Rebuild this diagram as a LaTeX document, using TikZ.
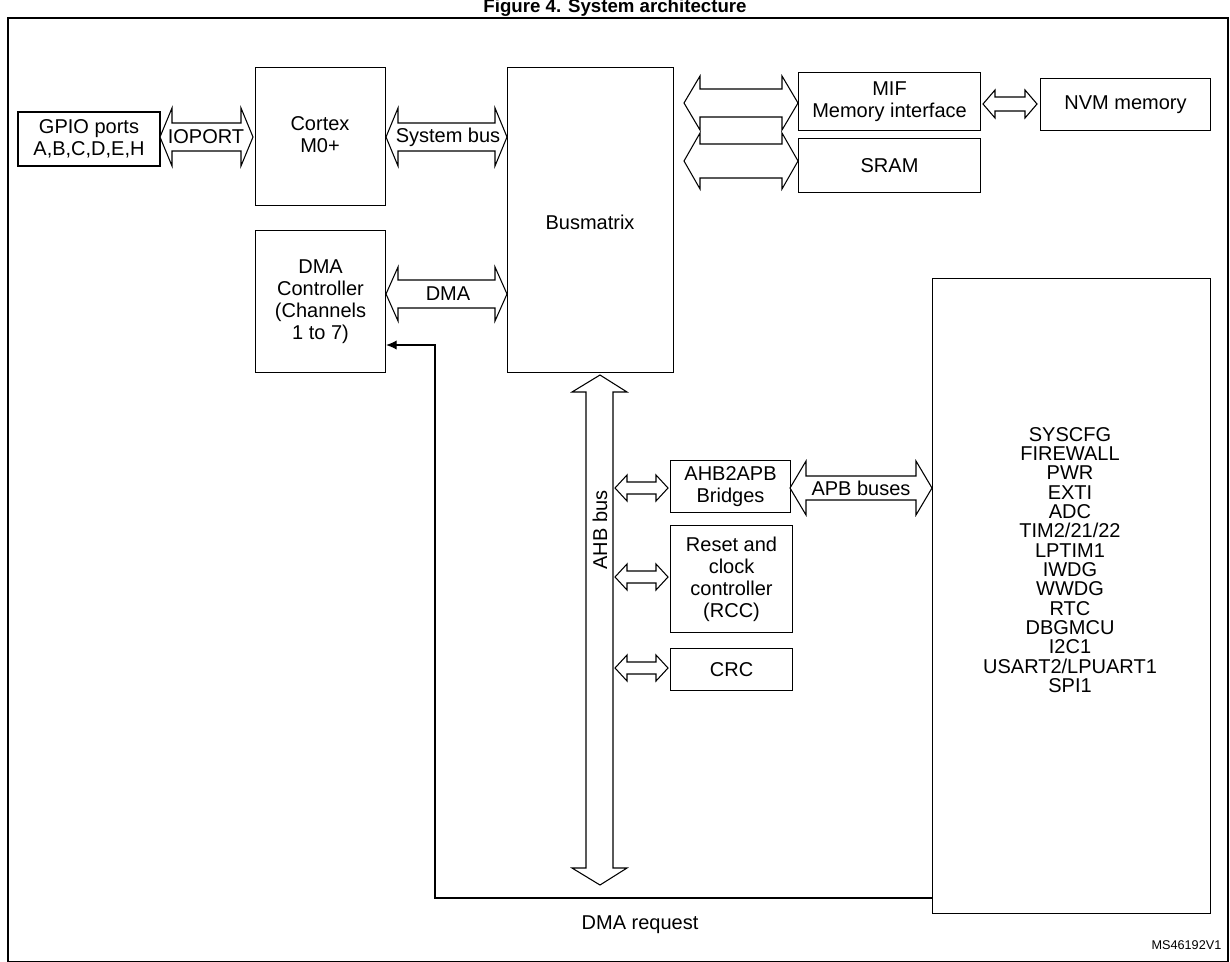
\documentclass[tikz,border=0pt]{standalone}
\usepackage{fontspec}
\usetikzlibrary{arrows.meta}
\setmainfont{Liberation Sans}
\newcommand{\hdarr}[6]{% x1 x2 y s h L
  \draw[arr] (#1,#3) -- ({#1+#6},{#3-#5}) -- ({#1+#6},{#3-#4}) -- ({#2-#6},{#3-#4}) -- ({#2-#6},{#3-#5}) -- (#2,#3)
   -- ({#2-#6},{#3+#5}) -- ({#2-#6},{#3+#4}) -- ({#1+#6},{#3+#4}) -- ({#1+#6},{#3+#5}) -- cycle;}
\begin{document}
\begin{tikzpicture}[x=0.75pt,y=-0.75pt,
  box/.style={draw,line width=0.8pt,inner sep=0pt,align=center,font=\fontsize{15}{16.5}\selectfont},
  arr/.style={draw,line width=0.8pt,fill=white},
  lbl/.style={font=\fontsize{15}{16.5}\selectfont,inner sep=1pt}]
\useasboundingbox (0,0) rectangle (1230,961);
\node[font=\bfseries\fontsize{14}{16}\selectfont] (title) at (615,8) {Figure 4. System architecture};
\draw[line width=0.8pt] (8,18) rectangle (1228,962);
% boxes
\node[box,minimum width=142*0.75pt,minimum height=54*0.75pt] (gpio) at (89,139) {GPIO ports\\A,B,C,D,E,H};
\node[box,minimum width=130*0.75pt,minimum height=138*0.75pt,anchor=north west] (cortex) at (255,67) {};
\node[lbl,align=center] (cortext) at (320,135) {Cortex\\M0+};
\node[box,minimum width=130*0.75pt,minimum height=142*0.75pt,anchor=north west] (dmac) at (255,230) {DMA\\Controller\\(Channels\\1 to 7)};
\node[box,minimum width=166*0.75pt,minimum height=305*0.75pt,anchor=north west] (bm) at (507,67) {};
\node[lbl] (bmt) at (590,222) {Busmatrix};
\node[box,minimum width=182*0.75pt,minimum height=58*0.75pt,anchor=north west] (mif) at (798,72) {MIF\\Memory interface};
\node[box,minimum width=182*0.75pt,minimum height=54*0.75pt,anchor=north west] (sram) at (798,138) {SRAM};
\node[box,minimum width=170*0.75pt,minimum height=52*0.75pt,anchor=north west] (nvm) at (1040,78) {NVM memory};
\node[box,minimum width=120*0.75pt,minimum height=52*0.75pt,anchor=north west] (br) at (670,460) {AHB2APB\\Bridges};
\node[box,minimum width=122*0.75pt,minimum height=107*0.75pt,anchor=north west] (rcc) at (670,525) {Reset and\\clock\\controller\\(RCC)};
\node[box,minimum width=122*0.75pt,minimum height=42*0.75pt,anchor=north west] (crc) at (670,648) {CRC};
\node[box,minimum width=278*0.75pt,minimum height=635*0.75pt,anchor=north west] (per) at (932,278) {};
\node[lbl,align=center,font=\fontsize{15}{14.5}\selectfont] (pert) at (1070,560) {SYSCFG\\FIREWALL\\PWR\\EXTI\\ADC\\TIM2/21/22\\LPTIM1\\IWDG\\WWDG\\RTC\\DBGMCU\\I2C1\\USART2/LPUART1\\SPI1};
% bus arrows
\hdarr{160}{253}{137}{14}{29}{12}
\node[lbl] (io) at (206,137) {IOPORT};
\hdarr{386}{507}{137}{14}{29}{12}
\node[lbl] (sb) at (448,137) {System bus};
\hdarr{386}{507}{294}{14}{27}{12}
\node[lbl] (dmal) at (448,294) {DMA};
\hdarr{684}{798}{103}{14}{27}{16}
\hdarr{684}{798}{161}{17}{28}{16}
\hdarr{983}{1037}{104}{7}{14}{12}
\hdarr{790}{932}{488}{12}{27}{16}
\node[lbl] (apb) at (861,488) {APB buses};
\hdarr{615}{668}{488}{6}{13}{12}
\hdarr{615}{668}{577}{6}{13}{12}
\hdarr{615}{668}{668}{6}{13}{12}
% AHB vertical
\draw[arr] (600,375) -- (627,392) -- (613,392) -- (613,868) -- (627,868) -- (600,885) -- (572,868) -- (586,868) -- (586,392) -- (572,392) -- cycle;
\node[lbl,rotate=90] (ahb) at (600,530) {AHB bus};
% DMA request
\coordinate (r1) at (435,898);
\coordinate (r2) at (435,345);
\draw[line width=0.8pt,-{Latex[length=8pt,width=7pt]}] (per.west |- r1) -- (r1) -- (r2) -- (dmac.east |- r2);
\node[lbl] (dreq) at (640,925) {DMA request};
\node[font=\fontsize{9.5}{11}\selectfont,anchor=east] (ms) at (1226,945) {MS46192V1};
\end{tikzpicture}
\end{document}
